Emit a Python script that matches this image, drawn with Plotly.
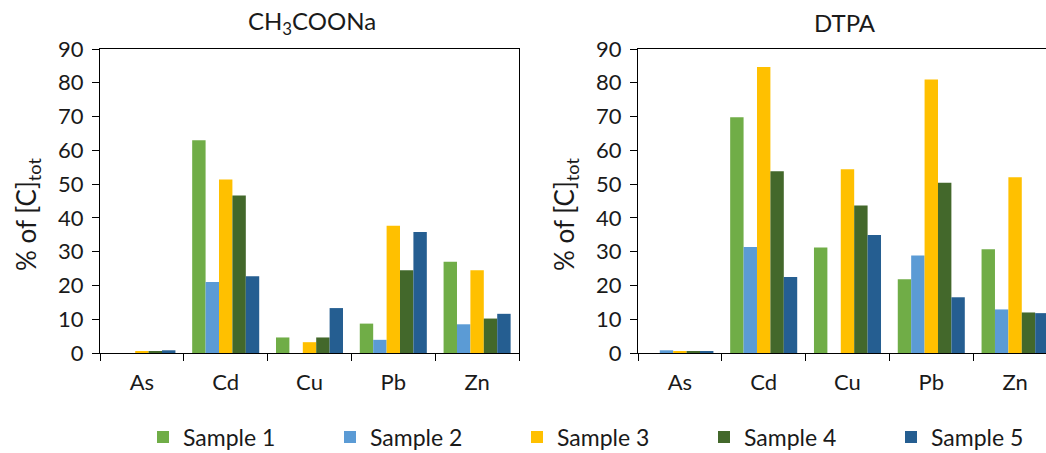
import plotly.graph_objects as go

elements = ["As", "Cd", "Cu", "Pb", "Zn"]
samples = ["Sample 1", "Sample 2", "Sample 3", "Sample 4", "Sample 5"]
colors = ["#70AD47", "#5B9BD5", "#FFC000", "#43682B", "#255E91"]

# CH3COONa extraction (% of total concentration), per sample across elements
ch3coona_s1 = [0.0, 63.0, 4.6, 8.7, 27.0]
ch3coona_s2 = [0.0, 21.0, 0.0, 3.9, 8.5]
ch3coona_s3 = [0.3, 51.4, 3.2, 37.7, 24.5]
ch3coona_s4 = [0.5, 46.6, 4.6, 24.5, 10.2]
ch3coona_s5 = [0.8, 22.7, 13.3, 35.8, 11.6]

# DTPA extraction
dtpa_s1 = [0.0, 69.8, 31.2, 21.8, 30.7]
dtpa_s2 = [0.8, 31.4, 0.0, 28.9, 12.9]
dtpa_s3 = [0.5, 84.7, 54.4, 81.0, 52.0]
dtpa_s4 = [0.4, 53.8, 43.7, 50.4, 12.0]
dtpa_s5 = [0.4, 22.5, 34.9, 16.5, 11.8]

left_series = [ch3coona_s1, ch3coona_s2, ch3coona_s3, ch3coona_s4, ch3coona_s5]
right_series = [dtpa_s1, dtpa_s2, dtpa_s3, dtpa_s4, dtpa_s5]

FONT = "Lato"
TXT = "#1a1a1a"

fig = go.Figure()
for i, name in enumerate(samples):
    fig.add_trace(go.Bar(x=elements, y=left_series[i], name=name,
                         marker=dict(color=colors[i], line=dict(width=0)),
                         xaxis="x", yaxis="y", legendgroup=name, showlegend=True))
    fig.add_trace(go.Bar(x=elements, y=right_series[i], name=name,
                         marker=dict(color=colors[i], line=dict(width=0)),
                         xaxis="x2", yaxis="y2", legendgroup=name, showlegend=False))

W, H = 1046, 453
ydom = [1 - 353 / H, 1 - 49 / H]

axis_common = dict(showline=True, linecolor="black", linewidth=1,
                   ticks="outside", tickcolor="black", ticklen=7, tickwidth=1,
                   showgrid=False, zeroline=False,
                   tickfont=dict(family=FONT, size=22, color=TXT))

fig.update_layout(
    width=W, height=H,
    margin=dict(l=0, r=0, t=0, b=0, autoexpand=False),
    paper_bgcolor="white", plot_bgcolor="white",
    barmode="group", bargap=0.2, bargroupgap=0,
    font=dict(family=FONT, color=TXT),
    xaxis=dict(domain=[100 / W, 519 / W], anchor="y", range=[-0.5, 4.5],
               tickson="boundaries", mirror=True, ticklabelstandoff=10, **axis_common),
    yaxis=dict(domain=ydom, anchor="x", range=[0, 90], dtick=10, mirror=True,
               ticklabelstandoff=4, **axis_common),
    xaxis2=dict(domain=[638 / W, 1.0], anchor="y2", range=[-0.5, 4.369],
                tickson="boundaries", mirror=True, ticklabelstandoff=10, **axis_common),
    yaxis2=dict(domain=ydom, anchor="x2", range=[0, 90], dtick=10, mirror=False,
                ticklabelstandoff=4, **axis_common),
    legend=dict(orientation="h", x=143 / W, xanchor="left", y=1 - 437 / H, yanchor="middle",
                entrywidth=142, entrywidthmode="pixels",
                font=dict(family=FONT, size=23, color=TXT), bgcolor="rgba(0,0,0,0)"),
    annotations=[
        dict(text="CH<sub>3</sub>COONa", x=312 / W, y=1 - 22 / H, xref="paper", yref="paper",
             showarrow=False, font=dict(family=FONT, size=24, color=TXT), xanchor="center", yanchor="middle"),
        dict(text="DTPA", x=845 / W, y=1 - 22 / H, xref="paper", yref="paper",
             showarrow=False, font=dict(family=FONT, size=24, color=TXT), xanchor="center", yanchor="middle"),
        dict(text="% of [C]<sub>tot</sub>", x=27 / W, y=1 - 215 / H, xref="paper", yref="paper",
             textangle=-90, showarrow=False, font=dict(family=FONT, size=26, color=TXT),
             xanchor="center", yanchor="middle"),
        dict(text="% of [C]<sub>tot</sub>", x=565 / W, y=1 - 215 / H, xref="paper", yref="paper",
             textangle=-90, showarrow=False, font=dict(family=FONT, size=26, color=TXT),
             xanchor="center", yanchor="middle"),
    ],
)

fig.write_html("out.html")
